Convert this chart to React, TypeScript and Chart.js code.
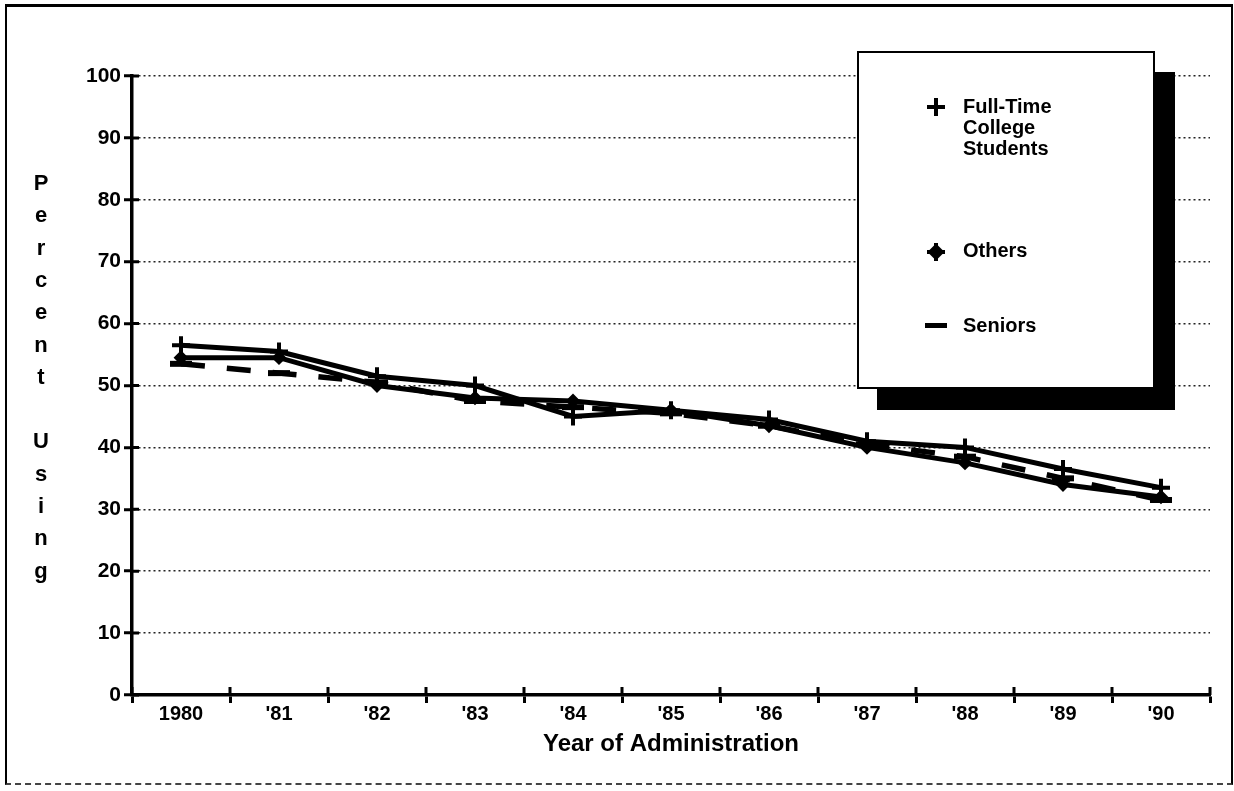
import React, { useEffect, useRef } from "react";
import { Chart, registerables } from "chart.js";

Chart.register(...registerables);

const categories = ["1980", "'81", "'82", "'83", "'84", "'85", "'86", "'87", "'88", "'89", "'90"];
const fullTimeCollege = [56.5, 55.5, 51.5, 50, 45, 46, 44.5, 41, 40, 36.5, 33.5];
const others = [54.5, 54.5, 50, 48, 47.5, 46, 43.5, 40, 37.5, 34, 32];
const seniors = [53.5, 52, 50.5, 47.5, 46.5, 45.5, 43.5, 40.5, 38.5, 35, 31.5];
const yTitleLetters = ["P", "e", "r", "c", "e", "n", "t", "", "U", "s", "i", "n", "g"];
const xTitle = "Year of Administration";
const legendLabels = [["Full-Time", "College", "Students"], ["Others"], ["Seniors"]];

const FONT = "'Liberation Sans', Arial, Helvetica, sans-serif";

const innerTicks = {
  id: "innerTicks",
  afterDraw(chart: any) {
    const { ctx, chartArea, scales } = chart;
    const x = scales.x;
    const y = scales.y;
    ctx.save();
    ctx.strokeStyle = "#000";
    ctx.lineWidth = 3;
    ctx.beginPath();
    y.ticks.forEach((_t: any, i: number) => {
      const py = y.getPixelForTick(i);
      ctx.moveTo(chartArea.left, py);
      ctx.lineTo(chartArea.left + 7, py);
    });
    for (let i = 0; i <= categories.length; i++) {
      const px = x.getPixelForValue(i - 0.5);
      ctx.moveTo(px, chartArea.bottom);
      ctx.lineTo(px, chartArea.bottom - 8);
    }
    ctx.stroke();
    ctx.restore();
  },
};

export default function App() {
  const ref = useRef<HTMLCanvasElement | null>(null);

  useEffect(() => {
    if (!ref.current) return;
    const chart = new Chart(ref.current, {
      type: "line",
      data: {
        labels: categories,
        datasets: [
          {
            label: "Full-Time College Students",
            data: fullTimeCollege,
            borderColor: "#000",
            backgroundColor: "#000",
            borderWidth: 5,
            pointStyle: "cross",
            pointRadius: 9,
            pointBorderWidth: 4,
            tension: 0,
          },
          {
            label: "Others",
            data: others,
            borderColor: "#000",
            backgroundColor: "#000",
            borderWidth: 5,
            pointStyle: "rectRot",
            pointRadius: 6,
            pointBorderWidth: 2,
            tension: 0,
          },
          {
            label: "Seniors",
            data: seniors,
            borderColor: "#000",
            backgroundColor: "#000",
            borderWidth: 5.5,
            borderDash: [24, 22],
            pointStyle: "line",
            pointRadius: 11,
            pointBorderWidth: 6,
            tension: 0,
          },
        ],
      },
      options: {
        animation: false,
        responsive: false,
        maintainAspectRatio: false,
        layout: { padding: { left: 0, top: 76, right: 24, bottom: 0 } },
        plugins: { legend: { display: false }, tooltip: { enabled: false } },
        scales: {
          x: {
            type: "category",
            offset: true,
            grid: {
              offset: true,
              drawOnChartArea: false,
              drawTicks: true,
              tickLength: 8,
              tickColor: "#000",
              tickWidth: 3,
            },
            border: { display: true, color: "#000", width: 3.5 },
            ticks: {
              color: "#000",
              padding: 1,
              maxRotation: 0,
              autoSkip: false,
              font: { family: FONT, size: 20, weight: "bold", lineHeight: 1 },
            },
            title: {
              display: true,
              text: xTitle,
              color: "#000",
              padding: { top: 0, bottom: 32 },
              font: { family: FONT, size: 24, weight: "bold" },
            },
            afterFit: (scale: any) => {
              scale.height = 96;
            },
          },
          y: {
            min: 0,
            max: 100,
            ticks: {
              stepSize: 10,
              color: "#000",
              padding: 3,
              font: { family: FONT, size: 21, weight: "bold" },
            },
            grid: {
              color: "#222",
              lineWidth: 1.5,
              drawTicks: true,
              tickLength: 8,
              tickColor: "#000",
              tickWidth: 3,
              tickBorderDash: [],
            },
            border: { display: true, color: "#000", width: 3.5, dash: [2, 3] },
            afterFit: (scale: any) => {
              scale.width = 132;
            },
          },
        },
      },
      plugins: [innerTicks],
    });
    return () => chart.destroy();
  }, []);

  return (
    <div style={{ position: "absolute", left: 0, top: 0, width: 1234, height: 791, background: "#fff", overflow: "hidden" }}>
      <div
        style={{
          position: "absolute",
          left: 5,
          top: 4,
          width: 1224,
          height: 776,
          borderTop: "3px solid #000",
          borderLeft: "2px solid #000",
          borderRight: "2px solid #000",
          borderBottom: "2px dashed #444",
        }}
      />
      <canvas ref={ref} width={1234} height={791} style={{ position: "absolute", left: 0, top: 0, width: 1234, height: 791 }} />
      {yTitleLetters.map((l, i) => (
        <div
          key={i}
          style={{
            position: "absolute",
            left: 28,
            top: 183 + i * 32.3 - 12,
            width: 26,
            height: 24,
            lineHeight: "24px",
            textAlign: "center",
            fontFamily: FONT,
            fontWeight: "bold",
            fontSize: 22,
            color: "#000",
          }}
        >
          {l}
        </div>
      ))}
      <div
        style={{
          position: "absolute",
          left: 857,
          top: 51,
          width: 294,
          height: 334,
          background: "#fff",
          border: "2px solid #000",
          boxShadow: "20px 21px 0 #000",
          fontFamily: FONT,
          fontWeight: "bold",
          fontSize: 20,
          color: "#000",
        }}
      >
        <div style={{ position: "absolute", left: 68, top: 45, width: 18, height: 18 }}>
          <div style={{ position: "absolute", left: 0, top: 7, width: 18, height: 4, background: "#000" }} />
          <div style={{ position: "absolute", left: 7, top: 0, width: 4, height: 18, background: "#000" }} />
        </div>
        <div style={{ position: "absolute", left: 104, top: 43, lineHeight: "21px" }}>
          {legendLabels[0].map((t, i) => (
            <div key={i}>{t}</div>
          ))}
        </div>
        <div style={{ position: "absolute", left: 68, top: 190, width: 18, height: 18 }}>
          <div style={{ position: "absolute", left: 3, top: 3, width: 12, height: 12, background: "#000", transform: "rotate(45deg)" }} />
          <div style={{ position: "absolute", left: 0, top: 7, width: 18, height: 4, background: "#000" }} />
          <div style={{ position: "absolute", left: 7, top: 0, width: 4, height: 18, background: "#000" }} />
        </div>
        <div style={{ position: "absolute", left: 104, top: 187, lineHeight: "21px" }}>{legendLabels[1][0]}</div>
        <div style={{ position: "absolute", left: 66, top: 270, width: 22, height: 5, background: "#000" }} />
        <div style={{ position: "absolute", left: 104, top: 262, lineHeight: "21px" }}>{legendLabels[2][0]}</div>
      </div>
    </div>
  );
}
